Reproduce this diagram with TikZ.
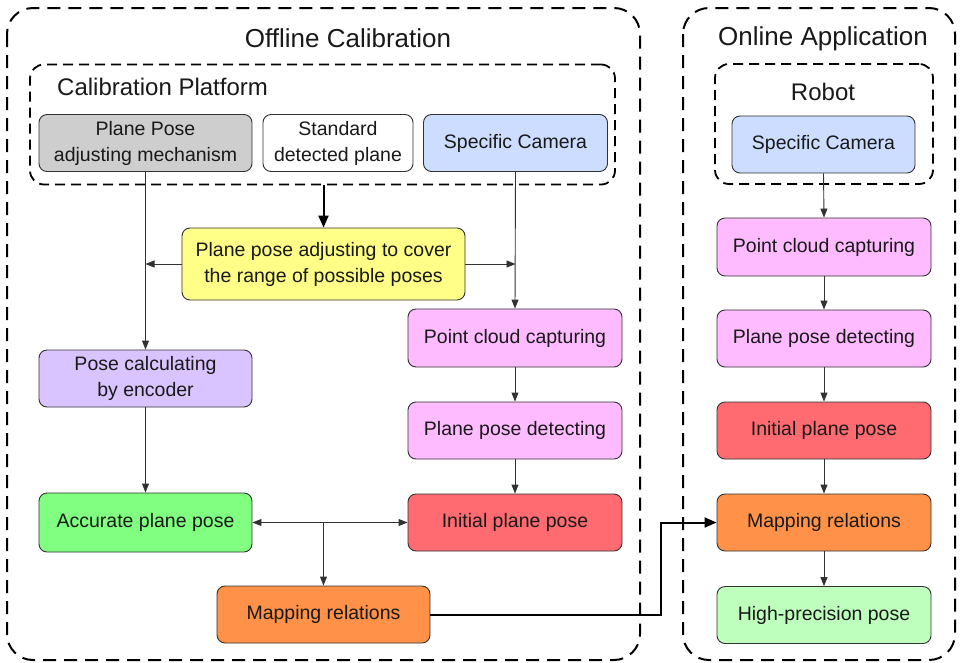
\documentclass[tikz,border=0pt]{standalone}
\usepackage{fontspec}
\setmainfont{Liberation Sans}
\usetikzlibrary{arrows.meta,calc}
\definecolor{cgray}{RGB}{206,206,206}
\definecolor{cblue}{RGB}{204,221,255}
\definecolor{cyellow}{RGB}{255,255,136}
\definecolor{cpurple}{RGB}{218,196,255}
\definecolor{cpink}{RGB}{255,187,255}
\definecolor{cred}{RGB}{255,107,112}
\definecolor{cgreen}{RGB}{128,255,128}
\definecolor{corange}{RGB}{255,146,72}
\definecolor{clgreen}{RGB}{190,255,190}
\definecolor{cline}{RGB}{50,50,50}
\begin{document}
\begin{tikzpicture}[x=1pt,y=-1pt,
  box/.style={draw=cline, line width=0.9pt, rounded corners=8pt, align=center, inner sep=0pt,
    text=black!90, font=\fontsize{19.5}{26}\selectfont},
  outerbox/.style={draw=black, line width=2pt, rounded corners=26pt, dash pattern=on 13pt off 8pt},
  innerbox/.style={draw=black, line width=1.8pt, rounded corners=14pt, dash pattern=on 10pt off 6pt},
  arr/.style={draw=cline, line width=0.9pt, ->, >={Triangle[length=9pt,width=7pt]}},
  darr/.style={draw=cline, line width=0.9pt, <->, >={Triangle[length=9pt,width=7pt]}},
  thickarr/.style={draw=black, line width=2pt, ->, >={Triangle[length=12pt,width=10pt]}},
  title/.style={font=\fontsize{26}{30}\selectfont, text=black!90, inner sep=0pt},
  subtitle/.style={font=\fontsize{24}{28}\selectfont, text=black!90, inner sep=0pt}
]
\useasboundingbox (0,0) rectangle (961,662);
\fill[white] (0,0) rectangle (961,662);

% outer dashed frames
\draw[outerbox] (7,8) rectangle (640,660);
\draw[outerbox] (683,8) rectangle (955,660);
\node[title] (toff) at (348,38) {Offline Calibration};
\node[title] (ton) at (823,39) {Online Application};

% inner dashed frames
\node[innerbox, minimum width=585pt, minimum height=120pt, inner sep=0pt] (plat) at (322.5,124.5) {};
\node[innerbox, minimum width=218pt, minimum height=120pt, inner sep=0pt] (robot) at (824,124) {};
\node[subtitle, anchor=west] (tplat) at (57,87) {Calibration Platform};
\node[subtitle] (trob) at (823,92) {Robot};

% left column (offline)
\node[box, fill=cgray, minimum width=213pt, minimum height=57pt] (mech) at (145.5,143) {Plane Pose\\adjusting mechanism};
\node[box, fill=white, minimum width=150pt, minimum height=57pt] (std) at (338,143) {Standard\\detected plane};
\node[box, fill=cblue, minimum width=184pt, minimum height=57pt] (camL) at (515.5,143) {Specific Camera};
\node[box, fill=cyellow, minimum width=283pt, minimum height=72pt] (adj) at (323.5,264) {Plane pose adjusting to cover\\the range of possible poses};
\node[box, fill=cpurple, minimum width=213pt, minimum height=57pt] (enc) at (145.5,378.5) {Pose calculating\\by encoder};
\node[box, fill=cpink, minimum width=214pt, minimum height=58pt] (pcL) at (515,338) {Point cloud capturing};
\node[box, fill=cpink, minimum width=214pt, minimum height=57pt] (pdL) at (515,430.5) {Plane pose detecting};
\node[box, fill=cred, minimum width=214pt, minimum height=57pt] (ipL) at (515,522.5) {Initial plane pose};
\node[box, fill=cgreen, minimum width=213pt, minimum height=59pt] (acc) at (145.5,522.5) {Accurate plane pose};
\node[box, fill=corange, minimum width=213pt, minimum height=57pt] (mapL) at (323.5,614.5) {Mapping relations};

% right column (online)
\node[box, fill=cblue, minimum width=183pt, minimum height=57pt] (camR) at (823.5,144.5) {Specific Camera};
\node[box, fill=cpink, minimum width=214pt, minimum height=58pt] (pcR) at (824,247) {Point cloud capturing};
\node[box, fill=cpink, minimum width=214pt, minimum height=57pt] (pdR) at (824,338.5) {Plane pose detecting};
\node[box, fill=cred, minimum width=214pt, minimum height=57pt] (ipR) at (824,430.5) {Initial plane pose};
\node[box, fill=corange, minimum width=214pt, minimum height=57pt] (mapR) at (824,522.5) {Mapping relations};
\node[box, fill=clgreen, minimum width=214pt, minimum height=57pt] (hpR) at (824,615) {High-precision pose};

% connectors (offline)
\draw[thickarr] (plat.south -| adj.north) -- (adj.north);
\draw[arr] (mech.south) -- (enc.north);
\coordinate (jl) at (mech.south |- adj.west);
\coordinate (jr) at (camL.south |- adj.east);
\draw[arr] (adj.west) -- (jl);
\draw[arr] (adj.east) -- (jr);
\draw[arr] (camL.south) -- (pcL.north);
\draw[arr] (pcL) -- (pdL);
\draw[arr] (pdL) -- (ipL);
\draw[arr] (enc) -- (acc);
\draw[darr] (acc.east) -- (ipL.west);
\coordinate (jm) at (mapL.north |- acc.east);
\draw[arr] (jm) -- (mapL.north);

% cross link
\coordinate (bend) at (661,614.5);
\draw[thickarr] (mapL.east) -- (bend) |- (mapR.west);

% connectors (online)
\draw[arr] (camR.south) -- (pcR.north);
\draw[arr] (pcR) -- (pdR);
\draw[arr] (pdR) -- (ipR);
\draw[arr] (ipR) -- (mapR);
\draw[arr] (mapR) -- (hpR);
\end{tikzpicture}
\end{document}
